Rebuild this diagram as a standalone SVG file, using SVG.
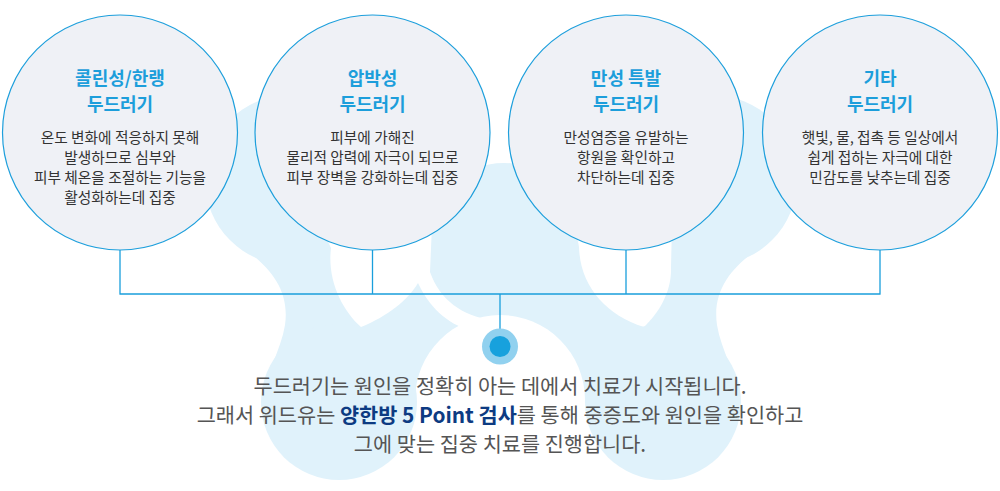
<svg xmlns="http://www.w3.org/2000/svg" width="1000" height="491" viewBox="0 0 1000 491">
<style>
.bg{fill:#e0f2fb}
.wh{fill:#ffffff}
.node circle{fill:#eff1f6;stroke:#1d9fdc;stroke-width:1.2}
.t{font-family:"Noto Sans CJK KR","Noto Sans",sans-serif;text-anchor:middle}
.title{font-size:18px;font-weight:700;fill:#1c9edb}
.body{font-size:14.7px;fill:#333333}
.main{font-size:20.8px;fill:#555555}
.bold{font-weight:700;fill:#0d3b82}
.ln{stroke:#1a9fdc;stroke-width:1.3;fill:none}
</style>
<g id="background">
<path class="bg" d="M246,250 C270,268 290,290 285,325 C281,350 265,375 262,402 L740,402 C737,375 721,350 717,325 C712,290 732,268 756,250 L712,180 L290,180 Z"/>
<circle class="bg" cx="290" cy="180" r="85"/>
<circle class="bg" cx="712" cy="180" r="85"/>
<circle class="bg" cx="504" cy="241" r="78"/>
<circle class="wh" cx="500" cy="400" r="85"/>
<path class="wh" d="M320,225 L331,248 C327,280 342,310 361,327 C388,316 408,300 418,283 C428,305 446,324 472,331 L492,320 C462,316 440,300 430,272 L432,225 Z"/>
<path class="wh" d="M575,225 L579,247 C580,285 605,315 644,327 C660,312 672,290 671,267 L672,225 Z"/>
<circle class="bg" cx="339" cy="402" r="78"/>
<circle class="bg" cx="663" cy="402" r="78"/>
</g>
<g id="connectors">
<path class="ln" d="M120,250 V294 M372.5,250 V294 M626,250 V294 M880,250 V294 M119.4,294 H880.6 M500,294 V338"/>
</g>
<g id="node1" class="node">
<circle cx="120" cy="132.5" r="117.5"/>
<text class="t title"><tspan x="120" y="84.5">콜린성/한랭</tspan><tspan x="120" y="110.5">두드러기</tspan></text>
<text class="t body"><tspan x="120" y="142.5">온도 변화에 적응하지 못해</tspan><tspan x="120" y="162.5">발생하므로 심부와</tspan><tspan x="120" y="182.5">피부 체온을 조절하는 기능을</tspan><tspan x="120" y="202.5">활성화하는데 집중</tspan></text>
</g>
<g id="node2" class="node">
<circle cx="372.5" cy="132.5" r="117.5"/>
<text class="t title"><tspan x="372.5" y="84.5">압박성</tspan><tspan x="372.5" y="110.5">두드러기</tspan></text>
<text class="t body"><tspan x="372.5" y="142.5">피부에 가해진</tspan><tspan x="372.5" y="162.5">물리적 압력에 자극이 되므로</tspan><tspan x="372.5" y="182.5">피부 장벽을 강화하는데 집중</tspan></text>
</g>
<g id="node3" class="node">
<circle cx="626" cy="132.5" r="117.5"/>
<text class="t title"><tspan x="626" y="84.5">만성 특발</tspan><tspan x="626" y="110.5">두드러기</tspan></text>
<text class="t body"><tspan x="626" y="142.5">만성염증을 유발하는</tspan><tspan x="626" y="162.5">항원을 확인하고</tspan><tspan x="626" y="182.5">차단하는데 집중</tspan></text>
</g>
<g id="node4" class="node">
<circle cx="880" cy="132.5" r="117.5"/>
<text class="t title"><tspan x="880" y="84.5">기타</tspan><tspan x="880" y="110.5">두드러기</tspan></text>
<text class="t body"><tspan x="880" y="142.5">햇빛, 물, 접촉 등 일상에서</tspan><tspan x="880" y="162.5">쉽게 접하는 자극에 대한</tspan><tspan x="880" y="182.5">민감도를 낮추는데 집중</tspan></text>
</g>
<g id="hub">
<circle cx="500" cy="346.5" r="18" fill="#91d1ef"/>
<circle cx="500" cy="346.5" r="10.5" fill="#17a1dd"/>
</g>
<g id="summary">
<text class="t main" x="500" y="393.5">두드러기는 원인을 정확히 아는 데에서 치료가 시작됩니다.</text>
<text class="t main" x="500" y="422.5">그래서 위드유는 <tspan class="bold">양한방 5 Point 검사</tspan>를 통해 중증도와 원인을 확인하고</text>
<text class="t main" x="500" y="451.5">그에 맞는 집중 치료를 진행합니다.</text>
</g>
</svg>
